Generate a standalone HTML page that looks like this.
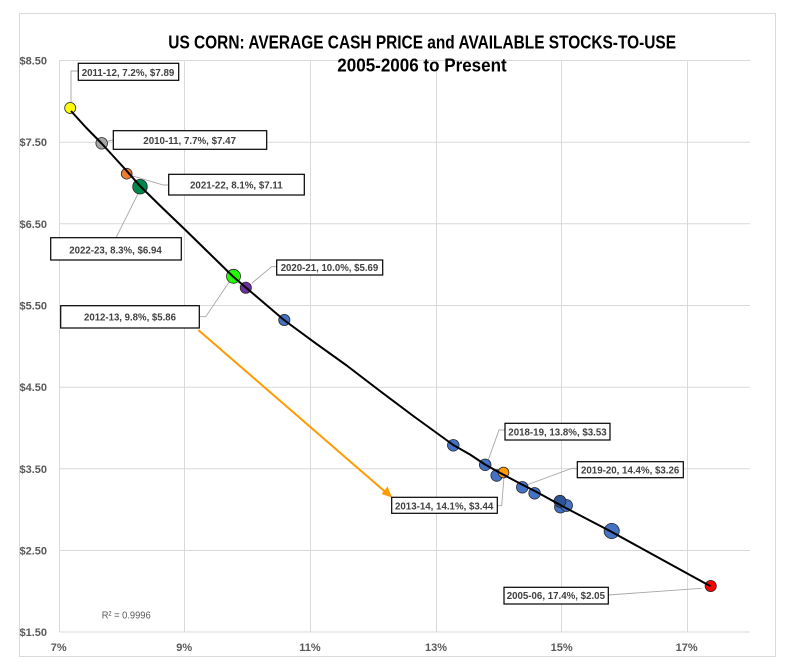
<!DOCTYPE html>
<html><head><meta charset="utf-8"><style>
html,body{margin:0;padding:0;background:#fff;}
svg{display:block;}
</style></head><body>
<svg width="797" height="670" viewBox="0 0 797 670" xmlns="http://www.w3.org/2000/svg">
<rect x="0" y="0" width="797" height="670" fill="#fff"/>
<rect x="19.5" y="13.5" width="756" height="643" fill="#fff" stroke="#D9D9D9" stroke-width="1"/>
<!-- gridlines -->
<g stroke="#D9D9D9" stroke-width="1" fill="none">
<line x1="59.5" y1="60.5" x2="750" y2="60.5"/>
<line x1="59.5" y1="142.2" x2="750" y2="142.2"/>
<line x1="59.5" y1="223.8" x2="750" y2="223.8"/>
<line x1="59.5" y1="305.5" x2="750" y2="305.5"/>
<line x1="59.5" y1="387.2" x2="750" y2="387.2"/>
<line x1="59.5" y1="468.8" x2="750" y2="468.8"/>
<line x1="59.5" y1="550.5" x2="750" y2="550.5"/>
<line x1="59.5" y1="632" x2="750" y2="632"/>
<line x1="59.5" y1="60.5" x2="59.5" y2="632"/>
<line x1="184.5" y1="60.5" x2="184.5" y2="632"/>
<line x1="310.5" y1="60.5" x2="310.5" y2="632"/>
<line x1="436.5" y1="60.5" x2="436.5" y2="632"/>
<line x1="561.5" y1="60.5" x2="561.5" y2="632"/>
<line x1="687.5" y1="60.5" x2="687.5" y2="632"/>
</g>
<!-- title -->
<g font-family="'Liberation Sans', sans-serif" font-weight="bold" fill="#000" font-size="18.5">
<text x="168.3" y="48.3" textLength="507.7" lengthAdjust="spacingAndGlyphs">US CORN: AVERAGE CASH PRICE and AVAILABLE STOCKS-TO-USE</text>
<text x="337.3" y="71.7" textLength="169.4" lengthAdjust="spacingAndGlyphs">2005-2006 to Present</text>
</g>
<!-- y labels -->
<g font-family="'Liberation Sans', sans-serif" font-weight="bold" fill="#595959" font-size="11" text-anchor="end">
<text x="47" y="64.5">$8.50</text>
<text x="47" y="146.2">$7.50</text>
<text x="47" y="227.8">$6.50</text>
<text x="47" y="309.5">$5.50</text>
<text x="47" y="391.2">$4.50</text>
<text x="47" y="472.8">$3.50</text>
<text x="47" y="554.5">$2.50</text>
<text x="47" y="636">$1.50</text>
</g>
<!-- x labels -->
<g font-family="'Liberation Sans', sans-serif" font-weight="bold" fill="#595959" font-size="11" text-anchor="middle">
<text x="58.7" y="651">7%</text>
<text x="184.2" y="651">9%</text>
<text x="310" y="651">11%</text>
<text x="436" y="651">13%</text>
<text x="561.7" y="651">15%</text>
<text x="686.7" y="651">17%</text>
</g>
<text x="101.7" y="618.3" font-family="'Liberation Sans', sans-serif" font-size="10" fill="#595959" textLength="49" lengthAdjust="spacingAndGlyphs">R² = 0.9996</text>
<!-- leader lines -->
<g stroke="#A6A6A6" stroke-width="0.9" fill="none">
<polyline points="71,103 71,71 78.3,71"/>
<polyline points="108,141 113.3,140"/>
<polyline points="131.7,175.7 163.3,185 168.7,185"/>
<polyline points="116,237.7 139,191.7"/>
<polyline points="199.3,316.7 205.7,316.7 231.7,278.3"/>
<polyline points="251.7,283.3 271.7,266.7 276.7,266.7"/>
<polyline points="488.3,460 499,430 505,430"/>
<polyline points="526.7,485 571.7,468.3 577.3,468.3"/>
<polyline points="497.3,505.7 501.7,505.7 504,476.7"/>
<polyline points="608.3,595 701.7,588.3"/>
</g>
<!-- markers -->
<g stroke="#262626" stroke-width="0.8">
<circle cx="70.2" cy="108" r="5.5" fill="#FFFF00"/>
<circle cx="101.7" cy="143.3" r="5.8" fill="#A5A5A5"/>
<circle cx="126.7" cy="173.7" r="5.4" fill="#ED7D31"/>
<circle cx="140" cy="186.7" r="7.3" fill="#00884A"/>
<circle cx="233.5" cy="276.3" r="7" fill="#22FF00"/>
<circle cx="245.8" cy="287.7" r="5.6" fill="#7030A0"/>
<circle cx="284.3" cy="320" r="5.6" fill="#4472C4"/>
<circle cx="453.3" cy="445.3" r="5.8" fill="#4472C4"/>
<circle cx="485.2" cy="464.8" r="5.8" fill="#4472C4"/>
<circle cx="496.7" cy="475.5" r="5.8" fill="#4472C4"/>
<circle cx="503.5" cy="472.5" r="5.4" fill="#FF9A00"/>
<circle cx="522.3" cy="487.3" r="5.8" fill="#4472C4"/>
<circle cx="534.6" cy="493.3" r="5.8" fill="#4472C4"/>
<circle cx="560.5" cy="507" r="6" fill="#4472C4"/>
<circle cx="566.5" cy="505.5" r="6" fill="#4472C4"/>
<circle cx="560" cy="501.3" r="6" fill="#2F5597"/>
<circle cx="611.7" cy="531" r="7.6" fill="#4472C4"/>
<circle cx="710.7" cy="586" r="5.6" fill="#FF0000"/>
</g>
<!-- trendline -->
<polyline fill="none" stroke="#000" stroke-width="2" stroke-linejoin="round" points="71,111 86,127.5 101.7,143.5 114,157 127,171.2 140,186 163,208.5 186.5,231 210,254 233,276.5 258.5,298.3 284,320 315,342.8 346.7,365.5 380,391 413.3,416 453.3,445 470,454.5 485,464.5 503,474.5 520,483.5 536.7,492 563,506.5 586,518.5 610,531 650,553 680,569.5 710.5,586.2"/>
<!-- orange arrow -->
<line x1="198.3" y1="330" x2="386" y2="492.5" stroke="#FF9A00" stroke-width="2"/>
<polygon points="392,497.5 381.5,494 387.5,486.5" fill="#FF9A00"/>
<!-- label boxes -->
<g fill="#fff" stroke="#000" stroke-width="1.2">
<rect x="78.3" y="63.3" width="100.4" height="17"/>
<rect x="113.3" y="130.7" width="153.4" height="18.6"/>
<rect x="168.7" y="174.3" width="135.6" height="20.7"/>
<rect x="50.7" y="237.7" width="130.6" height="22.3"/>
<rect x="60.7" y="305.7" width="138.6" height="22.3"/>
<rect x="276.7" y="260" width="106" height="15"/>
<rect x="505" y="423.3" width="105" height="16.7"/>
<rect x="577.3" y="461.7" width="106" height="16"/>
<rect x="391.7" y="497.3" width="105.6" height="16"/>
<rect x="504" y="587.3" width="104.3" height="16.7"/>
</g>
<g font-family="'Liberation Sans', sans-serif" font-weight="bold" fill="#404040" font-size="10.5">
<text x="81.7" y="76" textLength="92.6" lengthAdjust="spacingAndGlyphs">2011-12, 7.2%, $7.89</text>
<text x="143.3" y="143.8" textLength="92.7" lengthAdjust="spacingAndGlyphs">2010-11, 7.7%, $7.47</text>
<text x="190" y="188.6" textLength="92.7" lengthAdjust="spacingAndGlyphs">2021-22, 8.1%, $7.11</text>
<text x="69.3" y="253.6" textLength="92.4" lengthAdjust="spacingAndGlyphs">2022-23, 8.3%, $6.94</text>
<text x="84" y="320.3" textLength="92" lengthAdjust="spacingAndGlyphs">2012-13, 9.8%, $5.86</text>
<text x="280.7" y="271" textLength="97.6" lengthAdjust="spacingAndGlyphs">2020-21, 10.0%, $5.69</text>
<text x="508.3" y="435.3" textLength="98.4" lengthAdjust="spacingAndGlyphs">2018-19, 13.8%, $3.53</text>
<text x="581" y="473.6" textLength="98.3" lengthAdjust="spacingAndGlyphs">2019-20, 14.4%, $3.26</text>
<text x="395" y="509.3" textLength="98.3" lengthAdjust="spacingAndGlyphs">2013-14, 14.1%, $3.44</text>
<text x="506.7" y="598.8" textLength="98.3" lengthAdjust="spacingAndGlyphs">2005-06, 17.4%, $2.05</text>
</g>
</svg>
</body></html>
